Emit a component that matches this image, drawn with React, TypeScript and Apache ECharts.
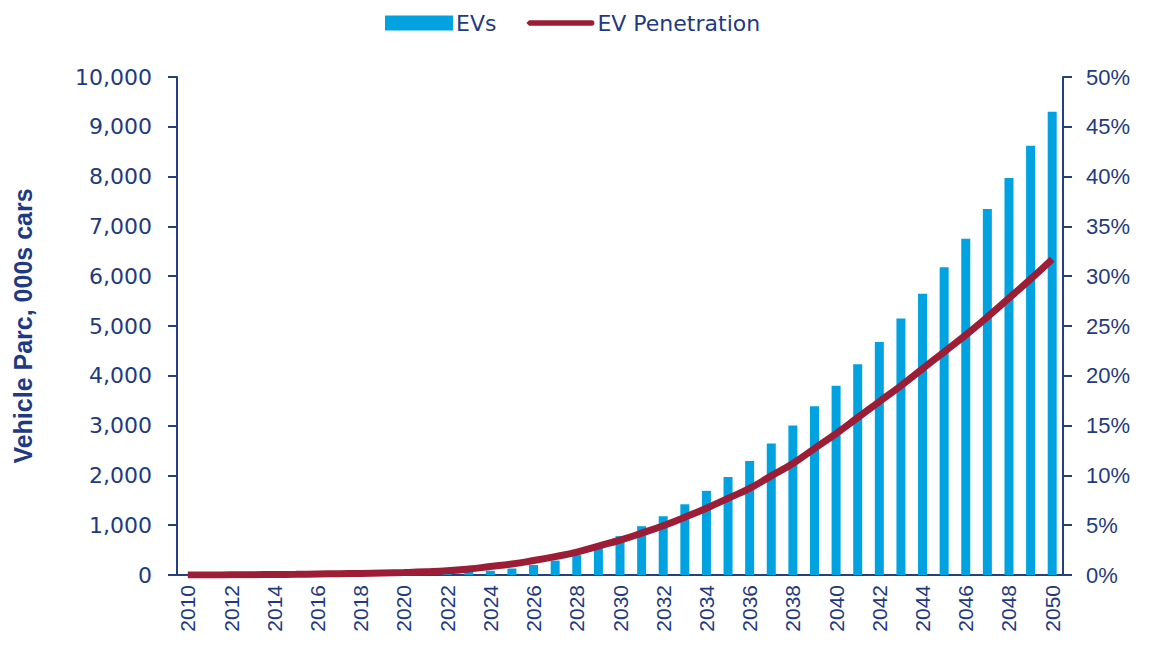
import React, { useEffect, useRef } from "react";
import * as echarts from "echarts";

const years: string[] = [];
for (let y = 2010; y <= 2050; y++) years.push(String(y));

const evs = [
  0, 1, 2, 3, 5, 7, 10, 13, 17, 22, 28, 35, 45, 60, 85, 130, 200, 290, 400, 560,
  780, 980, 1180, 1420, 1690, 1970, 2290, 2640, 3000, 3390, 3800, 4230, 4680, 5150,
  5650, 6180, 6750, 7350, 7970, 8620, 9300,
];

const penetration = [
  0, 0, 0.02, 0.03, 0.05, 0.07, 0.1, 0.13, 0.16, 0.2, 0.25, 0.32, 0.42, 0.6, 0.85,
  1.1, 1.45, 1.85, 2.3, 2.9, 3.5, 4.2, 4.95, 5.8, 6.7, 7.7, 8.7, 9.95, 11.2, 12.7,
  14.2, 15.8, 17.4, 19.0, 20.7, 22.4, 24.1, 25.9, 27.8, 29.7, 31.7,
];

const NAVY = "#1f3a82";
const AXIS = "#24407f";
const BLUE = "#00a3e0";
const RED = "#9c1d36";
const FONT = "'Liberation Sans', Arial, sans-serif";
const WIDE = "'DejaVu Sans', sans-serif";

export default function App() {
  const ref = useRef<HTMLDivElement>(null);
  useEffect(() => {
    document.body.style.margin = "0";
    const chart = echarts.init(ref.current!, null, { renderer: "svg" });
    chart.setOption({
      animation: false,
      textStyle: { fontFamily: FONT, color: NAVY },
      legend: {
        top: 7,
        left: 380,
        itemWidth: 68,
        itemHeight: 15,
        itemGap: 30,
        textStyle: { fontSize: 22, color: NAVY, fontFamily: WIDE, padding: [0, 0, 0, -2] },
        data: [
          { name: "EVs", icon: "rect" },
          { name: "EV Penetration", icon: "path://M4,0 L96,0 Q100,0 100,4 Q100,8 96,8 L4,8 L0,4 Z" },
        ],
      },
      grid: { left: 177, right: 87, top: 77, bottom: 73 },
      xAxis: {
        type: "category",
        data: years,
        boundaryGap: true,
        axisLine: { lineStyle: { color: AXIS, width: 2 } },
        axisTick: { interval: 0, length: 7, lineStyle: { color: AXIS, width: 2 } },
        axisLabel: {
          interval: 1,
          rotate: 90,
          margin: 10,
          fontSize: 21,
          color: NAVY,
          fontFamily: FONT,
        },
      },
      yAxis: [
        {
          type: "value",
          min: 0,
          max: 10000,
          interval: 1000,
          name: "Vehicle Parc, 000s cars",
          nameLocation: "middle",
          nameGap: 142,
          nameTextStyle: { fontSize: 25, fontWeight: "bold", color: NAVY, fontFamily: FONT },
          splitLine: { show: false },
          axisLine: { show: true, lineStyle: { color: AXIS, width: 2 } },
          axisTick: { show: true, length: 9, lineStyle: { color: AXIS, width: 2 } },
          axisLabel: {
            margin: 25,
            fontSize: 22,
            color: NAVY,
            fontFamily: WIDE,
            formatter: (v: number) => v.toLocaleString("en-US"),
          },
        },
        {
          type: "value",
          min: 0,
          max: 50,
          interval: 5,
          position: "right",
          splitLine: { show: false },
          axisLine: { show: true, lineStyle: { color: AXIS, width: 2 } },
          axisTick: { show: true, length: 9, lineStyle: { color: AXIS, width: 2 } },
          axisLabel: {
            margin: 23,
            fontSize: 22,
            color: NAVY,
            fontFamily: FONT,
            formatter: "{value}%",
          },
        },
      ],
      series: [
        {
          name: "EVs",
          type: "bar",
          data: evs,
          barWidth: 9,
          itemStyle: { color: BLUE },
          yAxisIndex: 0,
        },
        {
          name: "EV Penetration",
          type: "line",
          data: penetration,
          yAxisIndex: 1,
          smooth: true,
          symbol: "none",
          lineStyle: { color: RED, width: 7 },
          itemStyle: { color: RED },
        },
      ],
    });
    return () => chart.dispose();
  }, []);
  return <div ref={ref} style={{ width: 1150, height: 648 }} />;
}
